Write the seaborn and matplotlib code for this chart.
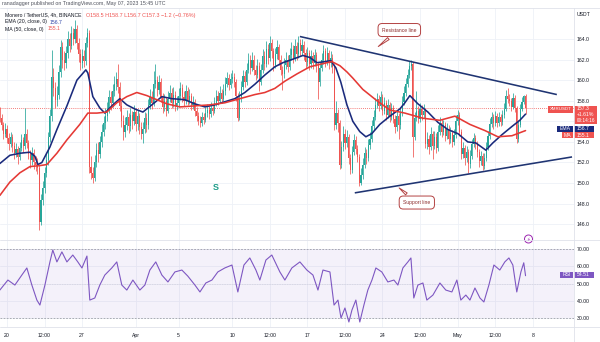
import numpy as np
import pandas as pd
import matplotlib
matplotlib.use("Agg")
import matplotlib.pyplot as plt
import seaborn as sns
from matplotlib.patches import Rectangle, Ellipse

# ---------------- data (4h candles, index 0 = Mar 19 08:00) ----------------
first_open = 156.8
closes = [
 156.3, 155.6, 154.8, 155.3, 154.4, 153.8, 154.5, 153.6, 152.9, 153.3,
 152.5, 153.4, 154.2, 153.6, 154.8, 153.9, 152.8, 152.2, 152.9, 152.0,
 151.8, 151.5, 146.2, 148.4, 149.5, 151.0, 152.2, 154.5, 156.5, 160.3,
 159.2, 158.1, 158.6, 160.8, 163.2, 162.0, 161.7, 162.6, 164.0, 163.3,
 164.6, 164.0, 165.0, 163.6, 162.5, 161.7, 162.3, 161.9, 163.6, 164.6,
 151.6, 151.0, 150.5, 152.0, 153.2, 152.8, 154.0, 155.0, 155.8, 156.5,
 157.2, 158.4, 157.8, 158.9, 159.6, 160.1, 159.3, 157.5, 156.0, 155.0,
 155.6, 156.4, 155.5, 156.6, 156.0, 156.9, 155.7, 156.5, 155.4, 154.8,
 155.3, 156.3, 155.6, 157.6, 158.4, 157.8, 159.6, 160.0, 159.0, 159.8,
 158.4, 157.4, 158.0, 157.0, 158.2, 158.8, 157.8, 158.6, 157.5, 157.8,
 158.5, 159.2, 158.4, 158.0, 158.9, 158.0, 158.5, 157.6, 157.9, 157.0,
 156.5, 156.0, 155.8, 156.4, 156.1, 156.8, 157.1, 156.7, 157.3, 157.0,
 157.8, 158.5, 158.0, 158.8, 158.2, 158.9, 159.6, 160.2, 159.5, 160.1,
 160.3, 159.8, 158.5, 156.3, 158.3, 159.3, 160.4, 159.8, 161.0, 162.0,
 161.2, 162.0, 161.0, 160.5, 161.4, 159.8, 161.0, 162.3, 161.6, 163.0,
 162.2, 163.6, 162.8, 161.5, 162.5, 163.2, 162.0, 161.0, 160.6, 161.5,
 162.0, 161.3, 162.4, 163.0, 162.2, 163.3, 162.5, 163.6, 162.8, 163.4,
 162.6, 161.8, 162.6, 161.6, 162.3, 161.7, 162.4, 161.5, 159.8, 161.2,
 162.0, 162.8, 161.9, 162.6, 161.7, 162.2, 161.3, 155.6, 156.8, 155.8,
 151.8, 153.5, 154.8, 153.9, 154.5, 152.4, 151.3, 153.0, 154.2, 153.3,
 152.5, 150.0, 150.8, 151.8, 152.9, 152.4, 153.7, 154.3, 155.5, 156.4,
 157.6, 158.2, 157.5, 158.4, 157.0, 157.8, 156.6, 157.6, 156.4, 157.3,
 156.2, 155.4, 156.5, 155.6, 156.8, 157.9, 158.8, 159.6, 160.5, 161.4,
 161.6, 154.5, 156.3, 157.0, 156.2, 157.2, 156.6, 157.0, 153.8, 154.3,
 153.5, 154.8, 153.6, 154.5, 153.4, 155.0, 155.8, 155.0, 155.6, 154.6,
 155.3, 154.3, 154.9, 154.0, 154.7, 156.0, 156.6, 155.0, 152.8, 153.4,
 152.4, 153.0, 151.9, 152.6, 153.8, 154.4, 153.8, 153.0, 152.1, 152.6,
 151.7, 152.4, 153.5, 154.6, 155.7, 156.4, 155.8, 156.5, 155.8, 156.4,
 155.9, 156.6, 157.2, 158.5, 158.2, 158.0, 157.4, 158.3, 157.3, 154.3,
 155.6, 157.2, 157.9, 158.5, 157.3]
highs = [
 157.4, 156.7, 155.9, 155.8, 155.6, 154.9, 155.0, 154.8, 154.0, 153.9,
 153.6, 154.0, 154.8, 154.5, 157.3, 155.3, 154.2, 153.2, 153.5, 153.3,
 152.6, 152.4, 151.8, 148.9, 150.2, 151.6, 152.9, 155.0, 157.2, 162.9,
 161.2, 159.8, 159.4, 161.5, 163.9, 163.7, 162.8, 163.3, 164.8, 164.6,
 165.3, 165.1, 165.8, 165.4, 164.1, 163.0, 163.0, 162.9, 164.2, 165.1,
 164.9, 152.6, 151.6, 152.7, 153.9, 154.0, 154.6, 155.7, 156.5, 157.3,
 157.9, 159.0, 158.9, 159.6, 160.4, 160.8, 161.6, 159.8, 158.0, 156.6,
 156.4, 157.1, 156.8, 157.3, 157.0, 157.6, 157.2, 157.1, 156.8, 155.9,
 155.9, 156.9, 156.8, 158.2, 159.1, 158.9, 160.9, 161.6, 160.4, 160.5,
 160.2, 158.8, 158.7, 158.4, 158.9, 159.5, 159.2, 159.3, 158.9, 158.5,
 159.2, 159.8, 159.6, 158.9, 159.5, 159.3, 159.1, 158.8, 158.5, 158.2,
 157.4, 156.9, 156.5, 156.9, 156.8, 157.4, 157.7, 157.5, 157.9, 157.7,
 158.4, 159.0, 158.9, 159.4, 159.1, 159.6, 160.3, 160.8, 160.6, 160.7,
 161.0, 160.7, 160.1, 158.8, 158.9, 159.9, 161.0, 160.9, 161.7, 162.6,
 162.4, 162.7, 162.4, 161.5, 162.1, 161.8, 161.6, 163.0, 162.8, 163.8,
 163.5, 164.3, 164.0, 163.1, 163.1, 163.9, 163.5, 162.4, 161.4, 162.2,
 162.7, 162.4, 163.1, 163.7, 163.4, 164.0, 163.7, 164.3, 164.0, 164.0,
 163.8, 163.0, 163.2, 162.9, 162.9, 162.7, 163.0, 162.7, 161.8, 161.8,
 162.6, 163.4, 163.1, 163.2, 162.9, 162.8, 162.5, 161.6, 158.0, 157.2,
 156.1, 154.1, 155.5, 155.3, 155.2, 154.8, 152.8, 153.6, 154.8, 154.6,
 153.7, 152.8, 151.5, 152.4, 153.5, 153.3, 154.3, 155.0, 156.1, 157.1,
 158.3, 158.8, 158.6, 158.9, 158.7, 158.4, 158.1, 158.2, 157.9, 157.8,
 157.6, 156.6, 157.0, 156.8, 157.3, 158.5, 159.4, 160.2, 161.1, 161.9,
 162.0, 161.8, 156.9, 158.9, 157.5, 157.8, 157.6, 157.7, 157.3, 155.0,
 154.7, 155.4, 155.1, 155.1, 154.9, 155.6, 156.4, 156.2, 156.1, 155.9,
 155.8, 155.6, 155.4, 155.2, 155.3, 156.6, 157.1, 156.9, 155.3, 154.0,
 153.7, 153.6, 153.3, 153.2, 154.3, 154.9, 154.7, 154.1, 153.3, 153.1,
 152.9, 152.9, 154.0, 155.1, 156.3, 156.9, 156.7, 157.0, 156.8, 156.9,
 156.7, 157.1, 157.8, 159.0, 159.2, 158.7, 158.3, 158.8, 158.6, 157.5,
 156.1, 157.7, 158.4, 158.6, 158.7]
lows = [
 155.9, 155.2, 154.3, 154.5, 153.9, 153.2, 153.5, 153.0, 152.3, 152.5,
 151.9, 152.2, 153.1, 153.0, 153.3, 153.4, 152.3, 151.5, 151.8, 151.4,
 151.2, 150.9, 145.4, 145.9, 147.9, 149.0, 150.6, 151.8, 154.0, 156.0,
 158.5, 157.3, 157.5, 158.2, 160.3, 161.2, 161.0, 161.2, 162.2, 162.7,
 163.0, 163.4, 163.6, 163.0, 161.8, 161.0, 161.2, 161.3, 161.5, 163.2,
 151.0, 150.4, 150.0, 150.2, 151.6, 152.0, 152.4, 153.5, 154.6, 155.3,
 156.0, 156.8, 157.1, 157.4, 158.5, 159.0, 158.8, 157.0, 155.4, 154.2,
 154.5, 155.2, 154.9, 155.1, 155.3, 155.6, 155.1, 155.2, 154.8, 154.3,
 153.9, 154.9, 155.0, 155.3, 157.2, 157.2, 157.5, 159.2, 158.5, 158.7,
 157.9, 156.8, 157.0, 156.5, 156.8, 157.9, 157.3, 157.4, 157.0, 157.1,
 157.4, 158.1, 157.9, 157.5, 157.7, 157.6, 157.7, 157.1, 157.2, 156.5,
 156.0, 155.6, 155.4, 155.5, 155.7, 155.9, 156.4, 156.2, 156.4, 156.6,
 156.8, 157.5, 157.6, 157.8, 157.8, 158.0, 158.6, 159.3, 159.0, 159.2,
 159.7, 159.3, 158.0, 156.0, 156.1, 157.9, 159.0, 159.3, 159.5, 160.7,
 160.6, 160.9, 160.5, 160.0, 160.2, 158.9, 159.5, 160.7, 161.0, 161.3,
 161.6, 161.9, 162.2, 160.9, 161.2, 162.1, 161.5, 160.5, 159.0, 160.2,
 161.1, 160.8, 161.0, 162.0, 161.7, 161.9, 162.0, 162.2, 162.3, 162.4,
 162.0, 161.2, 161.4, 161.0, 161.2, 161.1, 161.4, 160.8, 158.2, 159.4,
 160.9, 161.6, 161.3, 161.5, 161.1, 161.3, 160.7, 155.2, 155.3, 155.0,
 151.4, 151.5, 153.1, 153.3, 153.5, 151.9, 150.9, 151.0, 152.7, 152.8,
 152.0, 149.7, 149.8, 150.4, 151.5, 151.9, 152.1, 153.3, 154.0, 155.2,
 156.1, 157.3, 157.0, 157.2, 156.6, 156.7, 156.1, 156.3, 155.9, 156.1,
 155.8, 154.9, 155.1, 154.3, 155.3, 156.5, 157.6, 158.5, 159.3, 160.2,
 161.0, 152.5, 154.2, 156.0, 155.8, 155.9, 156.1, 156.3, 153.4, 153.3,
 152.8, 153.2, 152.3, 153.3, 152.9, 153.1, 154.7, 154.5, 154.7, 154.1,
 154.3, 153.8, 153.9, 153.5, 153.7, 154.4, 155.6, 154.6, 152.3, 152.4,
 151.8, 152.0, 151.0, 151.5, 152.3, 153.5, 153.3, 152.5, 151.6, 151.8,
 151.3, 151.4, 152.1, 153.2, 154.3, 155.4, 155.3, 155.5, 155.4, 155.5,
 155.5, 155.6, 156.3, 157.0, 157.8, 157.5, 157.0, 157.2, 156.9, 153.9,
 154.0, 155.4, 157.0, 157.7, 156.7]

ema_x = [0, 5.6, 11.2, 16.8, 19.6, 21.3, 23.5, 28, 31.9, 37.5, 43.1, 48.1, 49.2, 52, 55.9, 58.7,
         63.2, 67.1, 71, 75.5, 80, 85, 90.6, 96.2, 103.5, 109, 114.7, 120.2, 125.8, 131.4, 137,
         142.6, 148.2, 153.8, 158.3, 163.3, 169.5, 173.4, 177.3, 181.8, 185.1, 187.9, 190.7,
         194.1, 197.4, 201.3, 204.7, 208, 212.5, 218.1, 223.7, 226.5, 229.3, 233.8, 239.4, 245,
         250.6, 256.2, 261.7, 266.2, 271.8, 275.7, 280.8, 286.4, 290.8, 294]
ema_v = [151.9, 152.7, 152.9, 153.0, 152.6, 151.8, 152.0, 153.5, 155.2, 157.5, 160.0, 161.0,
         160.7, 158.4, 157.3, 156.8, 157.6, 158.2, 157.6, 157.2, 156.9, 157.6, 158.4, 158.2,
         158.1, 157.7, 157.4, 157.6, 157.9, 158.2, 158.8, 159.6, 160.5, 161.3, 161.7, 162.0,
         162.4, 162.2, 161.7, 161.8, 161.9, 161.2, 159.8, 157.6, 156.0, 155.0, 154.5, 154.8,
         155.7, 156.5, 157.2, 157.8, 158.5, 157.7, 156.9, 155.9, 155.2, 154.8, 154.0, 153.9,
         153.2, 153.9, 154.7, 155.5, 156.1, 156.7]
ma_x = [0, 5.6, 11.2, 16.8, 22.4, 26.3, 31.9, 37.5, 44.7, 49.2, 54.3, 59.8, 65.4, 71, 76.6, 82.2,
        87.8, 93.4, 100.7, 109.1, 117.4, 125.8, 134.2, 142.6, 148.2, 153.8, 159.4, 166.1, 173.4,
        180.6, 185.7, 190.2, 194.1, 197.4, 203, 210.9, 218.1, 226.5, 236.6, 246.1, 254.5, 262.9,
        271.3, 278.5, 286.4, 294]
ma_v = [148.8, 150.1, 151.0, 151.6, 151.7, 151.8, 152.9, 154.2, 155.7, 156.8, 156.8, 156.9,
        157.8, 158.4, 158.8, 158.5, 158.1, 157.7, 157.4, 157.5, 157.6, 157.8, 158.2, 158.6,
        158.8, 159.2, 159.9, 160.6, 161.3, 161.6, 161.8, 161.4, 160.8, 160.2, 159.1, 158.0,
        157.1, 156.8, 156.3, 156.1, 156.5, 155.7, 155.1, 154.5, 154.6, 155.1]
rsi_x = [0, 4.5, 8.4, 12.3, 15.1, 17.9, 20.7, 22.4, 25.2, 28.0, 29.6, 31.9, 34.7, 37.5, 40.8,
         43.6, 45.9, 48.7, 50.3, 53.1, 55.9, 58.7, 62.6, 65.4, 68.2, 71.0, 74.4, 78.3, 81.1,
         83.9, 87.2, 90.6, 94.0, 97.9, 101.8, 105.1, 109.1, 111.9, 115.2, 118.6, 121.9, 125.8,
         129.8, 133.1, 136.5, 139.8, 143.2, 145.4, 148.8, 152.1, 156.6, 159.4, 163.3, 167.8,
         171.7, 175.1, 177.9, 180.7, 184.6, 186.9, 189.1, 190.8, 193.0, 195.2, 196.9, 199.1,
         201.3, 203.6, 205.8, 208.1, 210.3, 213.6, 217.0, 220.4, 222.6, 225.4, 228.2, 229.9,
         231.5, 233.8, 236.6, 238.8, 242.2, 246.1, 249.4, 252.8, 255.6, 257.8, 260.6, 262.9,
         265.7, 268.5, 270.7, 273.5, 276.3, 279.6, 282.4, 284.7, 286.9, 289.1, 291.4, 293.0, 294]
rsi_v = [46.2, 52.0, 49.1, 54.9, 59.0, 49.1, 40.4, 37.5, 49.1, 62.5, 69.4, 62.5, 68.3, 62.5,
         66.5, 62.5, 59.0, 65.9, 40.4, 41.6, 49.1, 54.9, 59.0, 62.5, 49.1, 46.2, 52.0, 46.2,
         49.1, 57.8, 62.5, 54.9, 50.9, 56.7, 57.8, 54.3, 49.1, 45.1, 50.3, 52.0, 56.7, 59.0,
         60.7, 45.1, 60.7, 64.8, 57.8, 52.0, 63.6, 66.5, 56.7, 52.0, 59.0, 62.5, 57.8, 54.9,
         46.2, 57.8, 56.7, 37.5, 40.4, 30.0, 35.8, 27.7, 34.6, 40.4, 27.7, 37.5, 46.2, 52.0,
         59.0, 56.7, 50.9, 52.0, 49.1, 59.0, 62.5, 64.8, 41.6, 49.1, 50.3, 40.4, 43.3, 50.3,
         46.2, 45.1, 52.0, 40.4, 43.3, 40.4, 47.4, 41.6, 39.3, 49.1, 60.7, 57.8, 62.5, 64.8,
         60.7, 45.1, 56.7, 62.0, 54.51]

resist_x = [167.8, 311.5]
resist_y = [164.24, 158.6]
support_x = [198.5, 320.0]
support_y = [149.05, 152.54]
last_price = 157.3

price_ticks = [146, 148, 150, 152, 154, 156, 158, 160, 162, 164]
price_labels = ["146.0", "148.0", "150.0", "152.0", "154.0", "", "158.0", "160.0", "162.0", "164.0"]
rsi_ticks = [30, 40, 50, 60, 70]
time_pos = [4, 25, 46, 76, 100, 130, 151, 172, 193, 214, 235, 256, 277, 298]
time_labels = ["20", "12:00", "27", "Apr", "5", "10", "12:00", "17", "12:00", "24",
               "12:00", "May", "12:00", "8"]

# ---------------- style ----------------
sns.set_theme(style="white")
plt.rcParams['font.family'] = ['Liberation Sans', 'DejaVu Sans']

GREEN = '#26a69a'
RED = '#ef5350'
NAVY = '#1a2a7c'
MA_RED = '#e53935'
PURPLE = '#7e57c2'
GRID = '#eef1f7'
SEP = '#dfe2ea'
TXT = '#131722'
W, H = 600, 342
FS = 3.7

fig = plt.figure(figsize=(6, 3.42), dpi=100)
ax = fig.add_axes([0, 1 - 240 / H, 574 / W, (240 - 8) / H])
axr = fig.add_axes([0, 1 - 327 / H, 574 / W, (327 - 240) / H])

df = pd.DataFrame({"i": np.arange(len(closes)), "open": [first_open] + closes[:-1],
                   "high": highs, "low": lows, "close": closes})
up = df["close"] >= df["open"]
cols = np.where(up, GREEN, RED)

ax.set_xlim(0.08, 321.1)
ax.set_ylim(144.47, 167.01)
axr.set_xlim(0.08, 321.1)
axr.set_ylim(24.8, 75.2)

# grid
for a in (ax, axr):
    a.set_xticks(time_pos)
    a.grid(True, color=GRID, lw=0.6)
    a.set_axisbelow(True)
    for s in a.spines.values():
        s.set_visible(False)

# candles
ax.vlines(df["i"], df["low"], df["high"], colors=cols, lw=0.55, zorder=3)
ax.bar(df["i"], (df["close"] - df["open"]).abs().clip(lower=0.06),
       bottom=np.minimum(df["open"], df["close"]), width=0.62, color=cols, lw=0, zorder=3)

ax.axhline(last_price, color=RED, lw=0.6, ls=(0, (1, 1.5)), zorder=2)

sns.lineplot(x=ema_x, y=ema_v, ax=ax, color=NAVY, linewidth=1.15, zorder=4)
sns.lineplot(x=ma_x, y=ma_v, ax=ax, color=MA_RED, linewidth=1.15, zorder=4)
ax.plot(resist_x, resist_y, color='#1f3472', lw=1.15, zorder=5, solid_capstyle='butt')
ax.plot(support_x, support_y, color='#1f3472', lw=1.15, zorder=5, solid_capstyle='butt')

callout_ec = '#b34242'
ax.annotate("Resistance line", xy=(210.4, 163.1), xytext=(223.4, 164.87),
            ha='center', va='center', fontsize=3.6, color='#8b2b2b', zorder=6,
            bbox=dict(boxstyle='round,pad=0.8,rounding_size=0.8', fc='white', ec=callout_ec, lw=0.7),
            arrowprops=dict(arrowstyle='wedge,tail_width=0.5,shrink_factor=0.5', fc='white',
                            ec=callout_ec, lw=0.7), annotation_clip=False)
ax.annotate("Support line", xy=(222.1, 149.7), xytext=(233.2, 148.11),
            ha='center', va='center', fontsize=3.6, color='#8b2b2b', zorder=6,
            bbox=dict(boxstyle='round,pad=0.8,rounding_size=0.8', fc='white', ec=callout_ec, lw=0.7),
            arrowprops=dict(arrowstyle='wedge,tail_width=0.5,shrink_factor=0.5', fc='white',
                            ec=callout_ec, lw=0.7), annotation_clip=False)
ax.text(120.8, 149.6, "S", color='#1c9c88', fontsize=6.5, fontweight='bold',
        ha='center', va='center', zorder=6)

ax.set_yticks(price_ticks)
ax.set_yticklabels(price_labels)
ax.yaxis.tick_right()
ax.tick_params(axis='y', labelsize=FS, length=0, pad=2.2, labelcolor=TXT)
ax.tick_params(axis='x', labelbottom=False, length=0)
ax.set_xlabel('')
ax.set_ylabel('')

# RSI panel
axr.axhspan(30, 70, color=PURPLE, alpha=0.08, lw=0, zorder=1)
axr.axhline(70, color='#8d8f99', lw=0.5, ls=(0, (2.5, 2)), zorder=2)
axr.axhline(30, color='#8d8f99', lw=0.5, ls=(0, (2.5, 2)), zorder=2)
axr.axhline(50, color='#8d8f99', lw=0.4, ls=(0, (1, 2)), alpha=0.5, zorder=2)
sns.lineplot(x=rsi_x, y=rsi_v, ax=axr, color=PURPLE, linewidth=0.8, zorder=4)
axr.set_yticks(rsi_ticks)
axr.set_yticklabels([f"{t:.2f}" for t in rsi_ticks])
axr.yaxis.tick_right()
axr.tick_params(axis='y', labelsize=FS, length=0, pad=2.2, labelcolor=TXT)
axr.set_xticklabels(time_labels)
axr.tick_params(axis='x', labelsize=FS, length=0, pad=4, labelcolor=TXT)
axr.set_xlabel('')
axr.set_ylabel('')

# overlay in pixel coordinates for chrome / labels
ov = fig.add_axes([0, 0, 1, 1], zorder=10)
ov.set_xlim(0, W)
ov.set_ylim(H, 0)
ov.axis('off')
ov.patch.set_alpha(0)

for yy in (8, 240, 327):
    ov.plot([0, W], [yy, yy], color=SEP, lw=0.6)
ov.plot([574, 574], [8, H], color=SEP, lw=0.6)

def t(x, y, s, **kw):
    kw.setdefault('fontsize', FS)
    kw.setdefault('color', TXT)
    kw.setdefault('ha', 'left')
    kw.setdefault('va', 'center')
    ov.text(x, y, s, **kw)

def box(x0, x1, y0, y1, fc):
    ov.add_patch(Rectangle((x0, y0), x1 - x0, y1 - y0, fc=fc, ec='none'))

t(2, 4, "ranadagger published on TradingView.com, May 07, 2023 15:45 UTC", color='#50535e', fontsize=3.75)
t(5, 15, "Monero / TetherUS, 4h, BINANCE")
t(86, 15, "O158.5 H158.7 L156.7 C157.3 \u22121.2 (\u22120.76%)", color=RED, fontsize=3.85)
t(5, 22, "EMA (20, close, 0)")
t(50, 22, "156.7", color='#2f45a8')
t(5, 29, "MA (50, close, 0)")
t(48, 29, "155.1", color=RED)
t(577, 14.5, "USDT")

box(548, 573, 105.5, 112.5, RED)
t(560.5, 109.2, "XMRUSDT", color='white', ha='center', fontsize=3.2)
box(574, 597, 105.5, 123.5, RED)
t(577, 108.7, "157.3", color='white')
t(577, 114.6, "+1.61%", color='white')
t(577, 120.5, "00:14:16", color='white', fontsize=3.4)
box(557, 573, 125.5, 131.5, NAVY)
t(565, 128.6, "EMA", color='white', ha='center')
box(574, 594, 125.5, 131.5, NAVY)
t(577, 128.6, "156.7", color='white')
box(562, 573, 132, 138, RED)
t(567.5, 135.1, "MA", color='white', ha='center')
box(574, 594, 132, 138, RED)
t(577, 135.1, "155.1", color='white')
box(560, 573, 271.5, 277.5, PURPLE)
t(566.5, 274.6, "RSI", color='white', ha='center')
box(574, 594, 271.5, 277.5, PURPLE)
t(577, 274.6, "54.51", color='white')

ov.add_patch(Ellipse((528.5, 239), 8, 8, fc='white', ec='#9c27b0', lw=0.7))
ov.text(528.5, 239.3, "\u26a1", fontsize=3.6, color='#9c27b0', family='DejaVu Sans',
        ha='center', va='center')

fig.savefig("out.png", dpi=100)
